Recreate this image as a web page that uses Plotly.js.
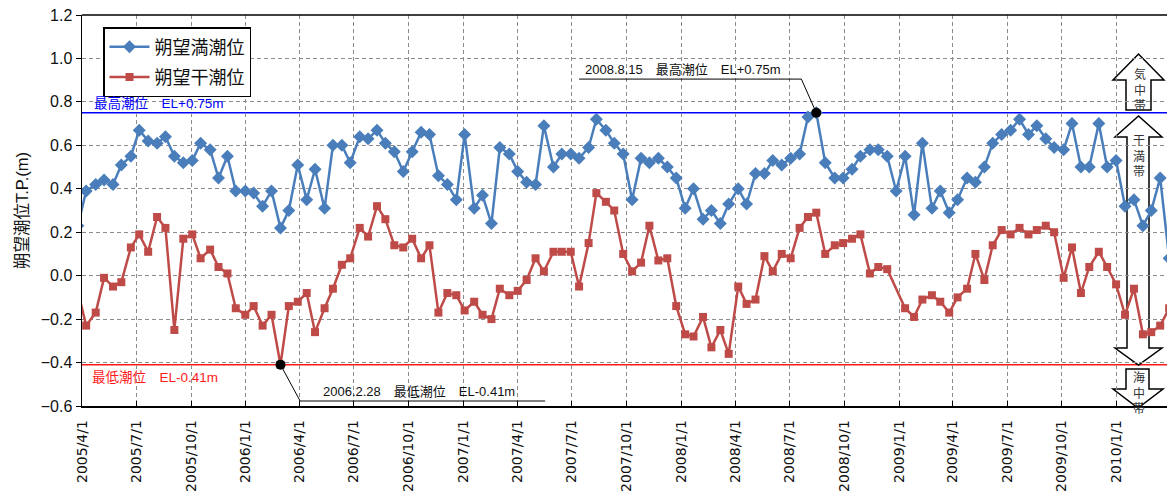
<!DOCTYPE html>
<html><head><meta charset="utf-8">
<script src="https://cdn.plot.ly/plotly-3.0.1.min.js"></script>
<style>html,body{margin:0;padding:0;background:#fff;} #chart{width:1167px;height:497px;}</style>
</head><body><div id="chart"></div>
<script>
// spring-tide (朔望) observation dates
const dates = [
 '2005-03-25','2005-04-08','2005-04-24','2005-05-08','2005-05-23','2005-06-06','2005-06-22','2005-07-06','2005-07-21','2005-08-05','2005-08-19','2005-09-03','2005-09-18','2005-10-03','2005-10-17','2005-11-02','2005-11-16','2005-12-01','2005-12-15','2005-12-31',
 '2006-01-14','2006-01-29','2006-02-13','2006-02-28','2006-03-14','2006-03-29','2006-04-13','2006-04-27','2006-05-13','2006-05-27','2006-06-11','2006-06-25','2006-07-11','2006-07-25','2006-08-09','2006-08-23','2006-09-07','2006-09-22','2006-10-07','2006-10-22','2006-11-05','2006-11-20','2006-12-05','2006-12-20',
 '2007-01-03','2007-01-19','2007-02-02','2007-02-17','2007-03-03','2007-03-19','2007-04-02','2007-04-17','2007-05-02','2007-05-16','2007-06-01','2007-06-15','2007-06-30','2007-07-14','2007-07-30','2007-08-12','2007-08-28','2007-09-11','2007-09-26','2007-10-11','2007-10-26','2007-11-09','2007-11-24','2007-12-09','2007-12-24',
 '2008-01-08','2008-01-22','2008-02-07','2008-02-21','2008-03-07','2008-03-21','2008-04-06','2008-04-20','2008-05-05','2008-05-20','2008-06-03','2008-06-18','2008-07-03','2008-07-18','2008-08-01','2008-08-15','2008-08-30','2008-09-15','2008-09-29','2008-10-14','2008-10-28','2008-11-13','2008-11-27','2008-12-12','2008-12-27',
 '2009-01-11','2009-01-26','2009-02-09','2009-02-25','2009-03-11','2009-03-26','2009-04-09','2009-04-25','2009-05-09','2009-05-24','2009-06-07','2009-06-22','2009-07-07','2009-07-22','2009-08-06','2009-08-20','2009-09-04','2009-09-18','2009-10-04','2009-10-18','2009-11-02','2009-11-16','2009-12-02','2009-12-16','2009-12-31',
 '2010-01-15','2010-01-30','2010-02-14','2010-02-28','2010-03-15','2010-03-30'
];
// 朔望満潮位 (m)
const highTide = [
 0.23,0.39,0.42,0.44,0.42,0.51,0.55,0.67,0.62,0.61,0.64,0.55,0.52,0.53,0.61,0.58,0.45,0.55,0.39,0.39,
 0.38,0.32,0.39,0.22,0.30,0.51,0.35,0.49,0.31,0.60,0.60,0.52,0.64,0.63,0.67,0.61,0.57,0.48,0.57,0.66,0.65,0.46,0.42,0.35,
 0.65,0.31,0.37,0.24,0.59,0.56,0.48,0.43,0.42,0.69,0.50,0.56,0.56,0.54,0.59,0.72,0.67,0.61,0.56,0.35,0.54,0.52,0.54,0.50,0.45,
 0.31,0.40,0.26,0.30,0.24,0.33,0.40,0.33,0.47,0.47,0.53,0.51,0.54,0.56,0.73,0.75,0.52,0.45,0.45,0.49,0.55,0.58,0.58,0.55,0.39,
 0.55,0.28,0.61,0.31,0.39,0.29,0.35,0.45,0.43,0.50,0.61,0.65,0.67,0.72,0.65,0.69,0.63,0.59,0.58,0.70,0.50,0.50,0.70,0.50,0.53,
 0.32,0.35,0.23,0.30,0.45,0.08
];
// 朔望干潮位 (m)
const lowTide = [
 -0.07,-0.23,-0.17,-0.01,-0.05,-0.03,0.13,0.19,0.11,0.27,0.22,-0.25,0.17,0.19,0.08,0.12,0.04,0.01,-0.15,-0.18,
 -0.14,-0.23,-0.18,-0.41,-0.14,-0.12,-0.08,-0.26,-0.15,-0.06,0.05,0.08,0.22,0.18,0.32,0.26,0.14,0.13,0.17,0.08,0.14,-0.17,-0.08,-0.09,
 -0.16,-0.12,-0.18,-0.20,-0.06,-0.09,-0.07,-0.02,0.08,0.02,0.11,0.11,0.11,-0.05,0.15,0.38,0.34,0.30,0.10,0.02,0.06,0.23,0.07,0.08,-0.14,
 -0.27,-0.28,-0.19,-0.33,-0.25,-0.36,-0.05,-0.13,-0.11,0.09,0.02,0.10,0.08,0.22,0.27,0.29,0.10,0.14,0.15,0.17,0.19,0.01,0.04,0.03,null,
 -0.15,-0.19,-0.11,-0.09,-0.12,-0.17,-0.10,-0.06,0.10,-0.02,0.14,0.21,0.19,0.22,0.19,0.21,0.23,0.20,-0.01,0.13,-0.08,0.04,0.11,0.04,-0.04,
 -0.18,-0.06,-0.27,-0.26,-0.23,-0.15
];
const seriesNames = ['朔望満潮位','朔望干潮位'];
const yTitle = '朔望潮位T.P.(m)';
const highRecordDate = '2008-08-15', highRecordLevel = 0.75;
const lowRecordDate = '2006-02-28', lowRecordLevel = -0.41;
const highLabel = '最高潮位\u3000EL+0.75m';
const lowLabel = '最低潮位\u3000EL-0.41m';
const highNote = '2008.8.15\u3000最高潮位\u3000EL+0.75m';
const lowNote = '2006.2.28\u3000最低潮位\u3000EL-0.41m';
const zoneLabels = ['気<br>中<br>帯','干<br>満<br>帯','海<br>中<br>帯'];
const xRange = ['2005-04-01','2010-03-26 10:00'];

// decoration helpers: pixel -> paper
const W = 1167, H = 497, ML = 82, MT = 15, MB = 91;
const PW = W - ML, PH = H - MT - MB;
const px = v => (v - ML) / PW;
const py = v => (H - MB - v) / PH;
const pathOf = pts => 'M' + pts.map(p => px(p[0]).toFixed(5) + ',' + py(p[1]).toFixed(5)).join(' L') + ' Z';

const cjk = '"Liberation Sans", "Noto Sans CJK JP", sans-serif';
const blue = '#4a7ebb', red = '#be4b48';

const traces = [
  {x: dates, y: highTide, name: seriesNames[0], type: 'scatter', mode: 'lines+markers',
   legendgroup: 'a', line: {color: blue, width: 2.5}, marker: {symbol: 'diamond', size: 10, color: blue}},
  {x: dates, y: lowTide, name: seriesNames[1], type: 'scatter', mode: 'lines+markers', connectgaps: true,
   legendgroup: 'b', line: {color: red, width: 2.5}, marker: {symbol: 'square', size: 8, color: red}},
  {x: [lowRecordDate, highRecordDate], y: [lowRecordLevel, highRecordLevel], type: 'scatter', mode: 'markers',
   showlegend: false, marker: {color: '#000', size: 10}}
];

const shapes = [
  {type: 'line', xref: 'paper', yref: 'paper', x0: 0, x1: 1, y0: 1, y1: 1, line: {color: '#000', width: 1.5}},
  {type: 'line', xref: 'paper', yref: 'y', x0: 0, x1: 1, y0: highRecordLevel, y1: highRecordLevel, layer: 'between', line: {color: '#0000ff', width: 1.6}},
  {type: 'line', xref: 'paper', yref: 'y', x0: 0, x1: 1, y0: lowRecordLevel, y1: lowRecordLevel, layer: 'between', line: {color: '#ff1a1a', width: 1.6}},
  // leader lines
  {type: 'line', xref: 'x', yref: 'y', x0: lowRecordDate, y0: lowRecordLevel, x1: '2006-04-02', y1: -0.577, line: {color: '#000', width: 1}},
  {type: 'line', xref: 'x', yref: 'y', x0: '2006-04-02', y0: -0.577, x1: '2007-05-18', y1: -0.577, line: {color: '#000', width: 1}},
  {type: 'line', xref: 'x', yref: 'y', x0: highRecordDate, y0: highRecordLevel, x1: '2008-07-21', y1: 0.905, line: {color: '#000', width: 1}},
  {type: 'line', xref: 'x', yref: 'y', x0: '2008-07-21', y0: 0.905, x1: '2007-07-14', y1: 0.905, line: {color: '#000', width: 1}},
  // zone arrows
  {type: 'path', xref: 'paper', yref: 'paper', layer: 'between', fillcolor: '#fff', line: {color: '#000', width: 1.5},
   path: pathOf([[1126,110],[1126,80],[1113,80],[1138.5,54],[1164,80],[1151,80],[1151,110]])},
  {type: 'path', xref: 'paper', yref: 'paper', layer: 'between', fillcolor: 'rgba(0,0,0,0)', line: {color: '#000', width: 1.5},
   path: pathOf([[1127,137],[1115,137],[1138.5,116],[1162,137],[1149,137],[1149,348],[1162,348],[1138.5,365],[1115,348],[1127,348]])},
  {type: 'path', xref: 'paper', yref: 'paper', layer: 'between', fillcolor: '#fff', line: {color: '#000', width: 1.5},
   path: pathOf([[1126,369],[1126,389],[1113,389],[1138,408],[1163,389],[1149,389],[1149,369]])}
];

const annotations = [
  {xref: 'paper', yref: 'y', x: px(92), y: highRecordLevel, xanchor: 'left', yanchor: 'bottom', yshift: 0,
   text: highLabel, showarrow: false, font: {family: cjk, size: 13.5, color: '#0000ff'}},
  {xref: 'paper', yref: 'y', x: px(90), y: lowRecordLevel, xanchor: 'left', yanchor: 'top', yshift: -3,
   text: lowLabel, showarrow: false, font: {family: cjk, size: 13.5, color: '#ff1a1a'}},
  {xref: 'x', yref: 'y', x: '2006-10-19', y: -0.577, xanchor: 'center', yanchor: 'bottom', yshift: 0,
   text: lowNote, showarrow: false, font: {family: cjk, size: 13, color: '#111'}},
  {xref: 'x', yref: 'y', x: '2008-01-04', y: 0.905, xanchor: 'center', yanchor: 'bottom', yshift: 0,
   text: highNote, showarrow: false, font: {family: cjk, size: 13, color: '#111'}},
  {xref: 'paper', yref: 'paper', x: px(1140), y: py(89), xanchor: 'center', yanchor: 'middle',
   text: zoneLabels[0], showarrow: false, font: {family: '"Noto Sans CJK JP", sans-serif', size: 12, color: '#333'}},
  {xref: 'paper', yref: 'paper', x: px(1139), y: py(155), xanchor: 'center', yanchor: 'middle',
   text: zoneLabels[1], showarrow: false, font: {family: '"Noto Sans CJK JP", sans-serif', size: 12, color: '#333'}},
  {xref: 'paper', yref: 'paper', x: px(1139), y: py(392), xanchor: 'center', yanchor: 'middle',
   text: zoneLabels[2], showarrow: false, font: {family: '"Noto Sans CJK JP", sans-serif', size: 12, color: '#333'}}
];

const layout = {
  width: W, height: H,
  margin: {l: ML, r: 0, t: MT, b: MB, pad: 0},
  paper_bgcolor: '#fff', plot_bgcolor: '#fff',
  showlegend: true,
  legend: {x: px(103), y: py(27), xanchor: 'left', yanchor: 'top', bgcolor: '#fff',
           bordercolor: '#000', borderwidth: 1.5, tracegroupgap: 4, itemwidth: 40,
           font: {family: '"Noto Sans CJK JP", sans-serif', size: 18, color: '#111'}},
  xaxis: {type: 'date', range: xRange, tick0: '2005-04-01', dtick: 'M3', tickformat: '%Y/%-m/%-d',
          tickangle: -90, ticks: 'inside', ticklen: 5, tickcolor: '#000', tickwidth: 1, ticklabelstandoff: 7,
          showline: true, linecolor: '#000', linewidth: 1.5,
          showgrid: true, gridcolor: '#8c8c8c', gridwidth: 1, griddash: '4px,3px', zeroline: false,
          tickfont: {family: '"DejaVu Sans", sans-serif', size: 14, color: '#111'}, fixedrange: true},
  yaxis: {range: [-0.6, 1.2], tick0: 0, dtick: 0.2, tickformat: '.1f',
          ticks: 'outside', ticklen: 5, tickcolor: '#000', tickwidth: 1,
          showline: true, linecolor: '#000', linewidth: 1.5,
          showgrid: true, gridcolor: '#8c8c8c', gridwidth: 1, griddash: '4px,3px', zeroline: false,
          tickfont: {family: '"Liberation Sans", sans-serif', size: 16, color: '#111'},
          title: {text: yTitle, standoff: 8, font: {family: cjk, size: 16.5, color: '#111'}}, fixedrange: true},
  shapes: shapes,
  annotations: annotations
};

Plotly.newPlot('chart', traces, layout, {staticPlot: true, displayModeBar: false});
</script>
</body></html>
